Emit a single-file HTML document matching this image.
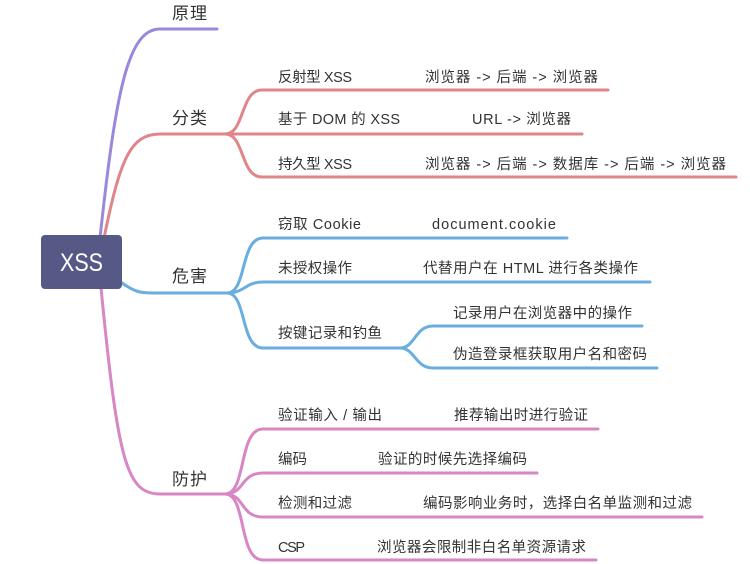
<!DOCTYPE html>
<html><head><meta charset="utf-8"><style>
html,body{margin:0;padding:0;background:#fff;}
svg{display:block;}
text{font-family:"Liberation Sans","Noto Sans CJK SC",sans-serif;fill:#333;}
.s{font-size:14.5px;}
.m{font-size:17px;}
</style></head><body>
<svg width="750" height="564" viewBox="0 0 750 564" xmlns="http://www.w3.org/2000/svg">
<g fill="none" stroke-width="3" stroke-linecap="round">
<path d="M100,238 C116,90 128,29 160,29 L217,29" stroke="#9b88dc"/>
<path d="M104,238 C120,160 130,134 160,134 L225,134" stroke="#e0858a"/>
<path d="M225,134 C245,134 240,90 262,90 L608,90" stroke="#e0858a"/>
<path d="M225,134 L582,134" stroke="#e0858a"/>
<path d="M225,134 C245,134 240,177 262,177 L736,177" stroke="#e0858a"/>
<path d="M118,280 C135,293 140,293 158,293 L227,293" stroke="#6aaee0"/>
<path d="M227,293 C247,293 240,238 263,238 L567,238" stroke="#6aaee0"/>
<path d="M227,293 C245,293 245,282 263,282 L650,282" stroke="#6aaee0"/>
<path d="M227,293 C247,293 240,348 263,348 L400,348" stroke="#6aaee0"/>
<path d="M400,348 C415,348 415,326 433,326 L642,326" stroke="#6aaee0"/>
<path d="M400,348 C415,348 415,368 433,368 L657,368" stroke="#6aaee0"/>
<path d="M101,288 C118,460 126,494 160,494 L225,494" stroke="#d886c4"/>
<path d="M225,494 C247,494 238,429 263,429 L598,429" stroke="#d886c4"/>
<path d="M225,494 C245,494 240,473 263,473 L537,473" stroke="#d886c4"/>
<path d="M225,494 C245,494 240,517 263,517 L702,517" stroke="#d886c4"/>
<path d="M225,494 C247,494 238,560 263,560 L596,560" stroke="#d886c4"/>
</g>
<rect x="41" y="235" width="81" height="54" rx="4" fill="#565985"/>
<text x="60" y="271" textLength="43" lengthAdjust="spacingAndGlyphs" style="font-size:25px;fill:#fff;">XSS</text>

<text class="m" x="172" y="19" textLength="35">原理</text>
<text class="m" x="172" y="124" textLength="35">分类</text>
<text class="m" x="172" y="282" textLength="35">危害</text>
<text class="m" x="172" y="485" textLength="35">防护</text>

<text class="s" x="278" y="82" textLength="74">反射型 XSS</text>
<text class="s" x="425" y="82" textLength="173">浏览器 -&gt; 后端 -&gt; 浏览器</text>
<text class="s" x="278" y="124" textLength="122">基于 DOM 的 XSS</text>
<text class="s" x="472" y="124" textLength="99">URL -&gt; 浏览器</text>
<text class="s" x="278" y="169" textLength="74">持久型 XSS</text>
<text class="s" x="425" y="169" textLength="301">浏览器 -&gt; 后端 -&gt; 数据库 -&gt; 后端 -&gt; 浏览器</text>

<text class="s" x="278" y="229" textLength="83">窃取 Cookie</text>
<text class="s" x="432" y="229" textLength="124">document.cookie</text>
<text class="s" x="278" y="273" textLength="74">未授权操作</text>
<text class="s" x="423" y="273" textLength="215">代替用户在 HTML 进行各类操作</text>
<text class="s" x="278" y="338" textLength="104">按键记录和钓鱼</text>
<text class="s" x="453" y="318" textLength="179">记录用户在浏览器中的操作</text>
<text class="s" x="453" y="359" textLength="194">伪造登录框获取用户名和密码</text>

<text class="s" x="278" y="420" textLength="104">验证输入 / 输出</text>
<text class="s" x="454" y="420" textLength="134">推荐输出时进行验证</text>
<text class="s" x="278" y="464" textLength="29">编码</text>
<text class="s" x="378" y="464" textLength="149">验证的时候先选择编码</text>
<text class="s" x="278" y="508" textLength="74">检测和过滤</text>
<text class="s" x="423" y="508" textLength="269">编码影响业务时，选择白名单监测和过滤</text>
<text class="s" x="278" y="552" textLength="27">CSP</text>
<text class="s" x="377" y="552" textLength="209">浏览器会限制非白名单资源请求</text>
</svg>
</body></html>
